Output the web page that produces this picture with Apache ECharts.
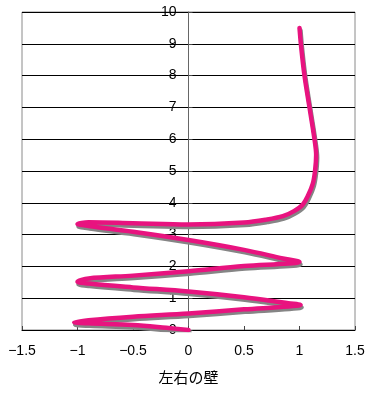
<!DOCTYPE html>
<html>
<head>
<meta charset="utf-8">
<script src="https://cdn.jsdelivr.net/npm/echarts@6/dist/echarts.min.js"></script>
<style>
  html, body { margin: 0; padding: 0; background: #fff; }
  #chart { width: 367px; height: 396px; }
</style>
</head>
<body>
<div id="chart"></div>
<script>
// Lateral position of the path (between the left and right walls)
const wallX = [
  0, -0.2, -0.5, -0.9, -1.03,
  -0.9, -0.5, 0, 0.5, 0.9, 1.01,
  0.9, 0.5, 0, -0.5, -0.9, -1.0,
  -0.9, -0.5, 0, 0.5, 0.9, 1.0,
  0.85, 0.5, 0, -0.5, -0.9, -1.0,
  -0.9, -0.5, 0, 0.5, 0.7, 0.85, 0.95, 1.03, 1.08, 1.12, 1.14, 1.15, 1.135, 1.09, 1.045, 1.015, 1.0
];
// Height along the path
const heightY = [
  0, 0.07, 0.16, 0.21, 0.24,
  0.31, 0.42, 0.52, 0.65, 0.74, 0.79,
  0.84, 1.03, 1.21, 1.34, 1.46, 1.52,
  1.62, 1.71, 1.85, 2.01, 2.09, 2.14,
  2.25, 2.52, 2.83, 3.09, 3.27, 3.33,
  3.39, 3.36, 3.32, 3.38, 3.47, 3.58, 3.74, 3.95, 4.25, 4.6, 5.0, 5.5, 6.0, 7.0, 8.0, 8.9, 9.5
];
const xTicks = { min: -1.5, max: 1.5, step: 0.5 };
const yTicks = { min: 0, max: 10, step: 1 };
const xAxisTitle = '左右の壁';

const points = wallX.map((x, i) => [x, heightY[i]]);

const W = 367, H = 396;
const gridLeft = 22, gridRight = 12, gridTop = 12, gridBottom = 66;
// pixel offset that places the vertical axis at x = 0
const plotWidth = W - gridLeft - gridRight;
const zeroOffset = -plotWidth * (0 - xTicks.min) / (xTicks.max - xTicks.min);

const chart = echarts.init(document.getElementById('chart'), null, { renderer: 'canvas' });
const fontFamily = "'Liberation Sans', Arial, sans-serif";

chart.setOption({
  animation: false,
  backgroundColor: '#ffffff',
  grid: {
    left: gridLeft, right: gridRight, top: gridTop, bottom: gridBottom,
    outerBoundsMode: 'none',
    containLabel: false,
    show: true, borderColor: '#8a8a8a', borderWidth: 1, backgroundColor: 'transparent'
  },
  xAxis: {
    type: 'value',
    min: xTicks.min, max: xTicks.max, interval: xTicks.step,
    name: xAxisTitle,
    nameLocation: 'middle',
    nameGap: 40,
    nameTextStyle: { fontFamily: "'Noto Sans CJK JP', sans-serif", fontSize: 15, color: '#000' },
    axisLine: { onZero: false, lineStyle: { color: '#000', width: 1 } },
    axisTick: { show: true, inside: true, length: 4, lineStyle: { color: '#444' } },
    axisLabel: {
      margin: 14, color: '#000', fontSize: 14, fontFamily,
      formatter: v => (v < 0 ? '\u2212' + Math.abs(v) : String(v))
    },
    splitLine: { show: false }
  },
  yAxis: {
    type: 'value',
    position: 'left',
    offset: zeroOffset,
    min: yTicks.min, max: yTicks.max, interval: yTicks.step,
    axisLine: { show: true, onZero: false, lineStyle: { color: '#666', width: 1 } },
    axisTick: { show: true, inside: true, length: 4, lineStyle: { color: '#444' } },
    axisLabel: { margin: 12, color: '#000', fontSize: 14, fontFamily },
    splitLine: { show: true, lineStyle: { color: '#000', width: 1 } }
  },
  series: [{
    type: 'line',
    data: points,
    showSymbol: false,
    symbol: 'none',
    smooth: 0.35,
    lineStyle: {
      color: '#e8137f',
      width: 4.5,
      cap: 'round',
      join: 'round',
      shadowColor: '#858585',
      shadowBlur: 0,
      shadowOffsetX: 1,
      shadowOffsetY: 2.5
    },
    z: 5
  }]
});
</script>
</body>
</html>
